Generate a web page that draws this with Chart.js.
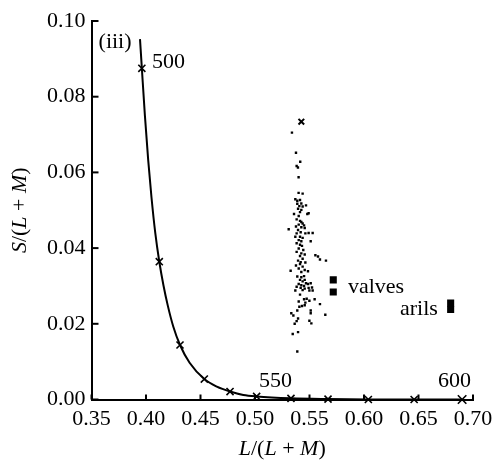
<!DOCTYPE html>
<html lang="en">
<head>
    <meta charset="UTF-8">
    <title>S/(L+M) vs L/(L+M)</title>
    <script src="https://cdn.jsdelivr.net/npm/chart.js"></script>
    <style>
        body { margin: 0; background: #fff; }
    </style>
</head>
<body>
    <canvas id="chromaChart" width="492" height="464"></canvas>

    <script>
        // spectral locus
        const curveX = [0.3945, 0.3962, 0.3990, 0.4020, 0.4050, 0.4085, 0.4122, 0.4160, 0.4200, 0.4250, 0.4312,
                        0.4400, 0.4535, 0.4650, 0.4771, 0.4893, 0.5015, 0.533, 0.567, 0.604, 0.646, 0.690];
        const curveY = [0.0952, 0.0875, 0.0750, 0.0633, 0.0535, 0.0440, 0.0364, 0.0302, 0.0248, 0.0193, 0.0144,
                        0.0097, 0.0054, 0.0034, 0.0021, 0.0012, 0.0008, 0.0003, 0.0001, 0.0, 0.0, 0.0];

        // wavelength markers on the locus
        const markerX = [0.3962, 0.4122, 0.4312, 0.4535, 0.4771, 0.5015, 0.533, 0.567, 0.604, 0.646, 0.690];
        const markerY = [0.0875, 0.0364, 0.0144, 0.0054, 0.0021, 0.0008, 0.0003, 0.0001, 0.0, 0.0, 0.0];

        // background / leaf samples
        const sampleX = [0.5339, 0.5376, 0.5415, 0.5382, 0.5394, 0.5400, 0.5400, 0.5437,
            0.5370, 0.5388, 0.5413, 0.5425, 0.5388, 0.5407, 0.5437, 0.5468, 0.5395, 0.5425, 0.5413, 0.5358,
            0.5401, 0.5480, 0.5492, 0.5382, 0.5413, 0.5425, 0.5437, 0.5401, 0.5450, 0.5376, 0.5425, 0.5456,
            0.5309, 0.5395, 0.5419, 0.5382, 0.5462, 0.5492, 0.5529, 0.5370, 0.5413, 0.5437, 0.5401, 0.5425,
            0.5511, 0.5382, 0.5413, 0.5431, 0.5401, 0.5443, 0.5382, 0.5425, 0.5456, 0.5413, 0.5554, 0.5578,
            0.5596, 0.5651, 0.5437, 0.5395, 0.5419, 0.5462, 0.5376, 0.5413, 0.5437, 0.5401, 0.5456, 0.5486,
            0.5327, 0.5425,
            0.5388, 0.5425, 0.5450, 0.5413, 0.5437, 0.5456, 0.5468, 0.5401, 0.5425, 0.5450, 0.5486, 0.5511,
            0.5382, 0.5419, 0.5456, 0.5492, 0.5523, 0.5370, 0.5437, 0.5499, 0.5529, 0.5413, 0.5450, 0.5474,
            0.5499, 0.5401, 0.5462, 0.5547, 0.5596, 0.5407, 0.5431, 0.5456, 0.5388, 0.5511, 0.5511, 0.5333,
            0.5352, 0.5395, 0.5382, 0.5499, 0.5517, 0.5364, 0.5395, 0.5346, 0.5645, 0.5388];
        const sampleY = [0.0705, 0.0652, 0.0628, 0.0617, 0.0613, 0.0587, 0.0546, 0.0544,
            0.0529, 0.0525, 0.0527, 0.0518, 0.0517, 0.0511, 0.0510, 0.0513, 0.0504, 0.0501, 0.0495, 0.0490,
            0.0485, 0.0490, 0.0492, 0.0476, 0.0472, 0.0469, 0.0465, 0.0462, 0.0460, 0.0457, 0.0455, 0.0453,
            0.0450, 0.0448, 0.0442, 0.0439, 0.0439, 0.0440, 0.0440, 0.0430, 0.0430, 0.0427, 0.0421, 0.0418,
            0.0418, 0.0413, 0.0409, 0.0406, 0.0399, 0.0395, 0.0390, 0.0386, 0.0383, 0.0379, 0.0381, 0.0378,
            0.0370, 0.0367, 0.0372, 0.0367, 0.0363, 0.0362, 0.0354, 0.0358, 0.0351, 0.0346, 0.0342, 0.0339,
            0.0340, 0.0337,
            0.0325, 0.0323, 0.0326, 0.0316, 0.0312, 0.0316, 0.0307, 0.0305, 0.0302, 0.0300, 0.0305, 0.0307,
            0.0298, 0.0295, 0.0293, 0.0295, 0.0296, 0.0288, 0.0289, 0.0288, 0.0288, 0.0277, 0.0265, 0.0266,
            0.0261, 0.0259, 0.0256, 0.0265, 0.0252, 0.0245, 0.0247, 0.0249, 0.0235, 0.0235, 0.0228, 0.0228,
            0.0222, 0.0214, 0.0207, 0.0208, 0.0201, 0.0200, 0.0178, 0.0173, 0.0224, 0.0127];

        const meanX = [0.5425];
        const meanY = [0.0734];

        const valvesX = [0.5718, 0.5718];
        const valvesY = [0.0316, 0.0284];
        const arilsX = [0.6795, 0.6795];
        const arilsY = [0.0255, 0.0238];

        const xTicks = [0.35, 0.40, 0.45, 0.50, 0.55, 0.60, 0.65, 0.70];
        const yTicks = [0.00, 0.02, 0.04, 0.06, 0.08, 0.10];

        const FONT = "'Liberation Serif', 'Times New Roman', serif";

        function pts(xs, ys) {
            return xs.map((x, i) => ({ x: x, y: ys[i] }));
        }

        // text labels placed in data coordinates
        const notes = [
            { text: '(iii)', x: 0.3716, y: 0.0945, align: 'center' },
            { text: '500', x: 0.4055, y: 0.0892, align: 'left' },
            { text: '550', x: 0.5037, y: 0.0049, align: 'left' },
            { text: '600', x: 0.6679, y: 0.0049, align: 'left' },
            { text: 'valves', x: 0.5853, y: 0.0297, align: 'left' },
            { text: 'arils', x: 0.6330, y: 0.0239, align: 'left' }
        ];

        const xTitle = [['L', true], ['/(', false], ['L', true], [' + ', false], ['M', true], [')', false]];
        const yTitle = [['S', true], ['/(', false], ['L', true], [' + ', false], ['M', true], [')', false]];

        function drawMixed(ctx, parts, cx, cy) {
            const fontOf = it => (it ? 'italic ' : '') + '22px ' + FONT;
            let total = 0;
            parts.forEach(p => { ctx.font = fontOf(p[1]); total += ctx.measureText(p[0]).width; });
            let x = cx - total / 2;
            ctx.textAlign = 'left';
            ctx.textBaseline = 'middle';
            parts.forEach(p => {
                ctx.font = fontOf(p[1]);
                ctx.fillText(p[0], x, cy);
                x += ctx.measureText(p[0]).width;
            });
        }

        const extras = {
            id: 'extras',
            afterDraw(chart) {
                const ctx = chart.ctx;
                const xs = chart.scales.x, ys = chart.scales.y;
                const area = chart.chartArea;
                ctx.save();
                ctx.strokeStyle = '#000';
                ctx.fillStyle = '#000';
                ctx.lineWidth = 2;
                // inward ticks
                xTicks.forEach(v => {
                    const px = xs.getPixelForValue(v);
                    ctx.beginPath();
                    ctx.moveTo(px, area.bottom);
                    ctx.lineTo(px, area.bottom - 5);
                    ctx.stroke();
                });
                yTicks.forEach(v => {
                    const py = ys.getPixelForValue(v);
                    ctx.beginPath();
                    ctx.moveTo(area.left, py);
                    ctx.lineTo(area.left + 7, py);
                    ctx.stroke();
                });
                // annotations
                ctx.font = '22px ' + FONT;
                ctx.textBaseline = 'middle';
                notes.forEach(n => {
                    ctx.textAlign = n.align;
                    ctx.fillText(n.text, xs.getPixelForValue(n.x), ys.getPixelForValue(n.y));
                });
                // axis titles
                drawMixed(ctx, xTitle, (area.left + area.right) / 2, area.bottom + 50);
                ctx.translate(20, (area.top + area.bottom) / 2);
                ctx.rotate(-Math.PI / 2);
                drawMixed(ctx, yTitle, 0, 0);
                ctx.restore();
            }
        };

        function createChart() {
            const ctx = document.getElementById('chromaChart').getContext('2d');
            const markerRadius = markerX.map((x, i) => i === markerX.length - 1 ? 6 : 5);

            new Chart(ctx, {
                type: 'scatter',
                data: {
                    datasets: [
                        {
                            label: 'locus',
                            data: pts(curveX, curveY),
                            showLine: true,
                            cubicInterpolationMode: 'monotone',
                            borderColor: '#000',
                            borderWidth: 2,
                            pointRadius: 0,
                            clip: false
                        },
                        {
                            label: 'wavelengths',
                            data: pts(markerX, markerY),
                            pointStyle: 'crossRot',
                            pointRadius: markerRadius,
                            borderColor: '#000',
                            borderWidth: 1.6,
                            clip: false
                        },
                        {
                            label: 'samples',
                            data: pts(sampleX, sampleY),
                            pointStyle: 'rect',
                            pointRadius: 1.7,
                            backgroundColor: '#000',
                            borderWidth: 0
                        },
                        {
                            label: 'mean',
                            data: pts(meanX, meanY),
                            pointStyle: 'crossRot',
                            pointRadius: 4,
                            borderColor: '#000',
                            borderWidth: 2
                        },
                        {
                            label: 'valves',
                            data: pts(valvesX, valvesY),
                            pointStyle: 'rect',
                            pointRadius: 5,
                            backgroundColor: '#000',
                            borderWidth: 0
                        },
                        {
                            label: 'arils',
                            data: pts(arilsX, arilsY),
                            pointStyle: 'rect',
                            pointRadius: 5,
                            backgroundColor: '#000',
                            borderWidth: 0
                        }
                    ]
                },
                options: {
                    responsive: false,
                    devicePixelRatio: 1,
                    animation: false,
                    layout: {
                        padding: { top: 21, right: 19, left: 0, bottom: 0 }
                    },
                    scales: {
                        x: {
                            type: 'linear',
                            min: 0.35,
                            max: 0.70,
                            afterFit: s => { s.height = 64.5; s.paddingLeft = 0; s.paddingRight = 0; },
                            afterBuildTicks: s => { s.ticks = xTicks.map(v => ({ value: v })); },
                            ticks: {
                                color: '#000',
                                padding: 7,
                                maxRotation: 0,
                                font: { family: FONT, size: 22 },
                                callback: v => v.toFixed(2)
                            },
                            grid: { drawOnChartArea: false, drawTicks: false },
                            border: { display: true, color: '#000', width: 2 }
                        },
                        y: {
                            type: 'linear',
                            min: 0,
                            max: 0.10,
                            afterFit: s => { s.width = 91.5; s.paddingTop = 0; s.paddingBottom = 0; },
                            afterBuildTicks: s => { s.ticks = yTicks.map(v => ({ value: v })); },
                            ticks: {
                                color: '#000',
                                padding: 6,
                                font: { family: FONT, size: 22 },
                                callback: v => v.toFixed(2)
                            },
                            grid: { drawOnChartArea: false, drawTicks: false },
                            border: { display: true, color: '#000', width: 2 }
                        }
                    },
                    plugins: {
                        legend: { display: false },
                        tooltip: { enabled: false }
                    }
                },
                plugins: [extras]
            });
        }

        window.onload = createChart;
    </script>
</body>
</html>
